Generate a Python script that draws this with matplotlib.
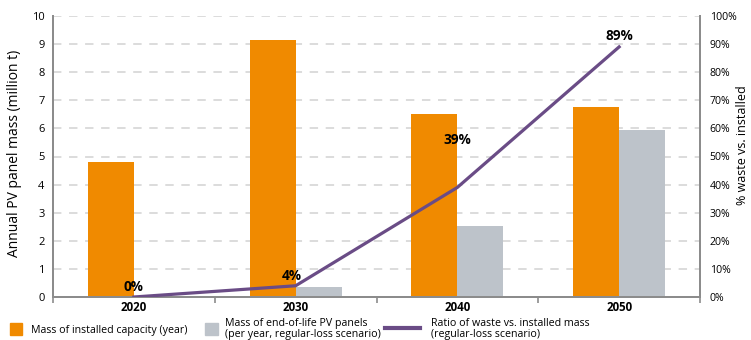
import numpy as np
import matplotlib
matplotlib.use("Agg")
import matplotlib.pyplot as plt
from matplotlib.patches import Rectangle
from matplotlib.lines import Line2D

plt.rcParams['font.family'] = ['Open Sans', 'DejaVu Sans']

# podatki
leta = ["2020", "2030", "2040", "2050"]
instalirano = [4.8, 9.15, 6.5, 6.76]      # mio t na leto
odpadki = [0.0, 0.36, 2.52, 5.93]         # mio t na leto
razmerje = [0, 4, 39, 89]                 # % odpadkov / instalirano
razmerje_oznake = ["0%", "4%", "39%", "89%"]
# zamik oznak nad crto (v tockah)
zamik = [(0, 2), (-3, 2), (0, 29), (0, 3)]

oranzna = "#F08A00"
siva = "#BDC3CA"
vijolicna = "#6A4C86"
crta_osi = "#8C8C8C"

W, H = 751, 340
fig = plt.figure(figsize=(W / 100, H / 100), dpi=100)
ax = fig.add_axes([53 / W, 1 - 297 / H, 647 / W, 281 / H])
ax2 = ax.twinx()

x = np.arange(len(leta))
w = 0.285
ax.bar(x - w / 2, instalirano, w, color=oranzna, zorder=2)
ax.bar(x + w / 2, odpadki, w, color=siva, zorder=2)

ax.set_xlim(-0.5, len(leta) - 0.5)
ax.set_ylim(0, 10)
ax.set_yticks(range(0, 11))
ax.grid(axis="y", color="#D2D2D2", linestyle=(0, (5.5, 5)), linewidth=1.1, zorder=0)
ax.set_axisbelow(True)

# kategorije na sredini, kljukice med skupinami
ax.set_xticks(x)
ax.set_xticklabels(leta, fontsize=8.3, fontweight="bold")
ax.set_xticks(np.arange(-0.5, len(leta)), minor=True)
ax.tick_params(axis="x", which="major", length=0, pad=3)
ax.tick_params(axis="x", which="minor", length=4, color=crta_osi, width=1.2)
ax.tick_params(axis="y", length=0, labelsize=8, pad=6)

ax2.set_ylim(0, 100)
ax2.set_yticks(range(0, 101, 10))
ax2.set_yticklabels([f"{v}%" for v in range(0, 101, 10)], fontsize=7.6)
ax2.tick_params(axis="y", length=0, pad=7)
ax2.plot(x, razmerje, color=vijolicna, linewidth=2.3, zorder=5)
for xi, yi, t, d in zip(x, razmerje, razmerje_oznake, zamik):
    ax2.annotate(t, (xi, yi), xytext=d, textcoords="offset points",
                 ha="center", va="bottom", fontsize=9.8, fontweight="bold")

# naslova osi
fig.text(15 / W, 1 - 153 / H, "Annual PV panel mass (million t)", rotation=90,
         ha="center", va="center", fontsize=10)
fig.text(742 / W, 1 - 145 / H, "% waste vs. installed", rotation=90,
         ha="center", va="center", fontsize=9)

for a in (ax, ax2):
    a.spines["top"].set_visible(False)
    for s in ("left", "right", "bottom"):
        a.spines[s].set_color(crta_osi)
        a.spines[s].set_linewidth(1.4)

# legenda spodaj
fig.patches.append(Rectangle((10 / W, 1 - 335 / H), 12 / W, 12 / H,
                             transform=fig.transFigure, color=oranzna))
fig.text(31 / W, 1 - 330 / H, "Mass of installed capacity (year)",
         fontsize=7.7, va="center")
fig.patches.append(Rectangle((205 / W, 1 - 335 / H), 13 / W, 12 / H,
                             transform=fig.transFigure, color=siva))
fig.text(225 / W, 1 - 329 / H,
         "Mass of end-of-life PV panels\n(per year, regular-loss scenario)",
         fontsize=7.7, va="center", linespacing=1.0)
fig.lines.append(Line2D([385 / W, 420 / W], [1 - 328 / H] * 2,
                        transform=fig.transFigure, color=vijolicna, linewidth=3))
fig.text(431 / W, 1 - 329 / H,
         "Ratio of waste vs. installed mass\n(regular-loss scenario)",
         fontsize=7.7, va="center", linespacing=1.0)

fig.savefig("out.png", dpi=100)
